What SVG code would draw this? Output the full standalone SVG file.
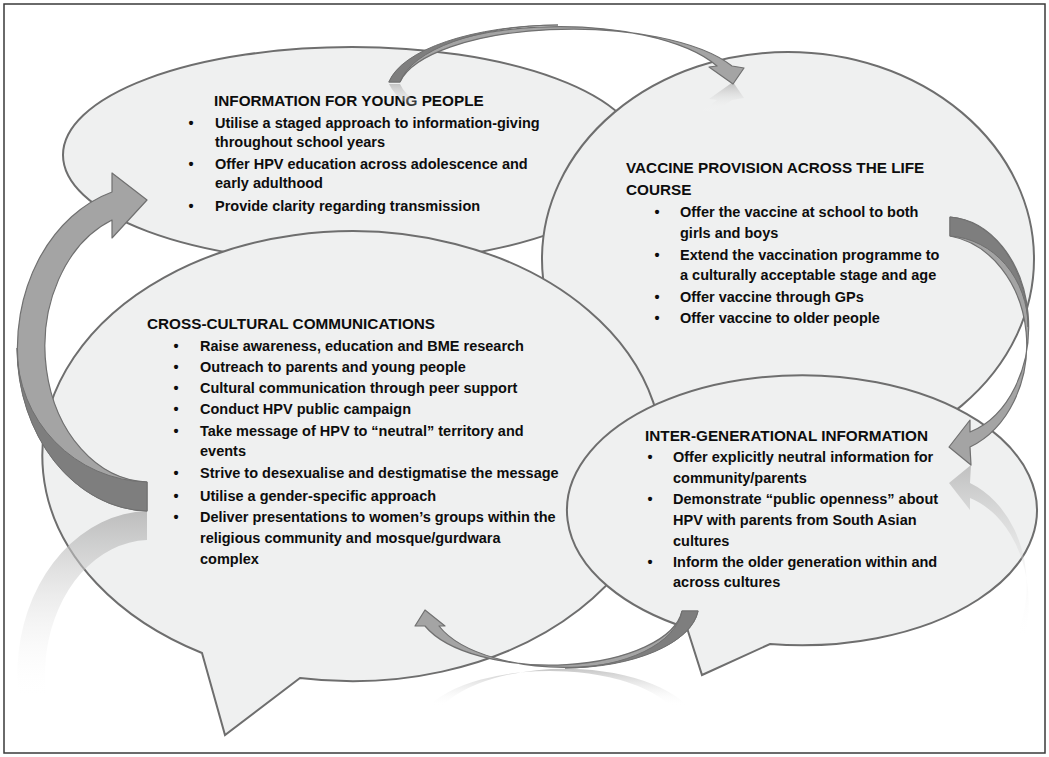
<svg xmlns="http://www.w3.org/2000/svg" xmlns:xlink="http://www.w3.org/1999/xlink" width="1049" height="757" viewBox="0 0 1049 757">
<style>
.bub{fill:#eff0f0;stroke:#6e6e6e;stroke-width:2}
.t{font-family:"Liberation Sans",Arial,sans-serif;font-weight:bold;font-size:14.5px;fill:#0d0d0d}
.h{font-size:15.3px}
.arr{fill:#a4a4a4;stroke:#707070;stroke-width:1.2;stroke-linejoin:round}
.dk{fill:#7e7e7e;stroke:#707070;stroke-width:1;stroke-linejoin:round}
</style>
<defs>
<path id="shA" d="M389,82 A173,67 0 0 1 717,66 L709,67 L733,84 L744,68 L732,66 A175,63 0 0 0 400,82 Z"/>
<path id="shB" d="M950,217 A83,110 0 0 1 970,432 L970,420 L949,447 L971,465 L970,447 A90,110 0 0 0 950,236 Z"/>
<path id="shC" d="M698,611 A134,63 0 0 1 439,626 L445,626 L425,610 L415,626 L425,626 A133,60 0 0 0 682,611 Z"/>
<path id="shD" d="M112,192 A133,163 0 0 0 147,511 L147,482 A105,135.6 0 0 1 112,220 L112,238 L147,200 L112,173 Z"/>
<linearGradient id="rA" gradientUnits="userSpaceOnUse" x1="0" y1="83" x2="0" y2="54"><stop offset="0" stop-color="#b0b0b0" stop-opacity="0.75"/><stop offset="1" stop-color="#ffffff" stop-opacity="0"/></linearGradient>
<linearGradient id="rB" gradientUnits="userSpaceOnUse" x1="0" y1="465" x2="0" y2="290"><stop offset="0" stop-color="#b0b0b0" stop-opacity="0.75"/><stop offset="1" stop-color="#ffffff" stop-opacity="0"/></linearGradient>
<linearGradient id="rC" gradientUnits="userSpaceOnUse" x1="0" y1="668" x2="0" y2="630"><stop offset="0" stop-color="#b0b0b0" stop-opacity="0.75"/><stop offset="1" stop-color="#ffffff" stop-opacity="0"/></linearGradient>
<linearGradient id="rD" gradientUnits="userSpaceOnUse" x1="0" y1="511" x2="0" y2="322"><stop offset="0" stop-color="#b0b0b0" stop-opacity="0.8"/><stop offset="1" stop-color="#ffffff" stop-opacity="0"/></linearGradient>
</defs>
<rect x="0" y="0" width="1049" height="757" fill="#ffffff"/>
<rect x="4" y="4" width="1041" height="749" fill="#ffffff" stroke="#3a3a3a" stroke-width="1.5"/>

<g id="node-young-people">
<ellipse class="bub" cx="352" cy="155" rx="289" ry="108"/>
<text class="t h" x="214" y="106">INFORMATION FOR YOUNG PEOPLE</text>
<text class="t" x="188.5" y="128">•</text><text class="t" x="215" y="128">Utilise a staged approach to information-giving</text>
<text class="t" x="215" y="147">throughout school years</text>
<text class="t" x="188.5" y="169">•</text><text class="t" x="215" y="169">Offer HPV education across adolescence and</text>
<text class="t" x="215" y="188">early adulthood</text>
<text class="t" x="188.5" y="211">•</text><text class="t" x="215" y="211">Provide clarity regarding transmission</text>
</g>

<g id="node-vaccine">
<ellipse class="bub" cx="788" cy="259" rx="246" ry="207"/>
<text class="t h" x="626" y="173">VACCINE PROVISION ACROSS THE LIFE</text>
<text class="t h" x="626" y="195">COURSE</text>
<text class="t" x="654.5" y="217">•</text><text class="t" x="680" y="217">Offer the vaccine at school to both</text>
<text class="t" x="680" y="238">girls and boys</text>
<text class="t" x="654.5" y="260">•</text><text class="t" x="680" y="260">Extend the vaccination programme to</text>
<text class="t" x="680" y="280">a culturally acceptable stage and age</text>
<text class="t" x="654.5" y="302">•</text><text class="t" x="680" y="302">Offer vaccine through GPs</text>
<text class="t" x="654.5" y="323">•</text><text class="t" x="680" y="323">Offer vaccine to older people</text>
</g>

<g id="node-cross-cultural">
<path class="bub" d="M202,653 A310,225 0 1 1 300,678 L225,735 Z"/>
<text class="t h" x="147" y="329">CROSS-CULTURAL COMMUNICATIONS</text>
<text class="t" x="173.5" y="351">•</text><text class="t" x="200" y="351">Raise awareness, education and BME research</text>
<text class="t" x="173.5" y="372">•</text><text class="t" x="200" y="372">Outreach to parents and young people</text>
<text class="t" x="173.5" y="393">•</text><text class="t" x="200" y="393">Cultural communication through peer support</text>
<text class="t" x="173.5" y="414">•</text><text class="t" x="200" y="414">Conduct HPV public campaign</text>
<text class="t" x="173.5" y="436">•</text><text class="t" x="200" y="436">Take message of HPV to “neutral” territory and</text>
<text class="t" x="200" y="456">events</text>
<text class="t" x="173.5" y="478">•</text><text class="t" x="200" y="478">Strive to desexualise and destigmatise the message</text>
<text class="t" x="173.5" y="501">•</text><text class="t" x="200" y="501">Utilise a gender-specific approach</text>
<text class="t" x="173.5" y="522">•</text><text class="t" x="200" y="522">Deliver presentations to women’s groups within the</text>
<text class="t" x="200" y="543">religious community and mosque/gurdwara</text>
<text class="t" x="200" y="564">complex</text>
</g>

<g id="node-inter-generational">
<path class="bub" d="M687,628 A235,135 0 1 1 770,644 L702,675 Z"/>
<text class="t h" x="645" y="441">INTER-GENERATIONAL INFORMATION</text>
<text class="t" x="647.5" y="462">•</text><text class="t" x="673" y="462">Offer explicitly neutral information for</text>
<text class="t" x="673" y="483">community/parents</text>
<text class="t" x="647.5" y="504">•</text><text class="t" x="673" y="504">Demonstrate “public openness” about</text>
<text class="t" x="673" y="525">HPV with parents from South Asian</text>
<text class="t" x="673" y="546">cultures</text>
<text class="t" x="647.5" y="567">•</text><text class="t" x="673" y="567">Inform the older generation within and</text>
<text class="t" x="673" y="587">across cultures</text>
</g>

<g id="connectors">
<g id="reflections">
<use xlink:href="#shA" href="#shA" fill="url(#rA)" transform="matrix(1 0 0 -1 0 166)"/>
<use xlink:href="#shB" href="#shB" fill="url(#rB)" transform="matrix(1 0 0 -1 0 930)"/>
<use xlink:href="#shC" href="#shC" fill="url(#rC)" transform="matrix(1 0 0 -1 0 1336)"/>
<use xlink:href="#shD" href="#shD" fill="url(#rD)" transform="matrix(1 0 0 -1 0 1022)"/>
</g>
<g id="arrow-young-to-vaccine">
<use xlink:href="#shA" href="#shA" class="arr"/>
<path class="dk" d="M389,82 A173,67 0 0 1 558,25 A162,67 0 0 0 400,82 Z"/>
</g>
<g id="arrow-vaccine-to-intergen">
<use xlink:href="#shB" href="#shB" class="arr"/>
<path class="dk" d="M950,217 A83,110 0 0 1 1028,327 A83,91 0 0 0 950,236 Z"/>
</g>
<g id="arrow-intergen-to-cross">
<use xlink:href="#shC" href="#shC" class="arr"/>
<path class="dk" d="M698,611 A134,63 0 0 1 565,668 A117.5,63 0 0 0 682,611 Z"/>
</g>
<g id="arrow-cross-to-young">
<use xlink:href="#shD" href="#shD" class="arr"/>
<path class="dk" d="M147,511 A133,163 0 0 1 17,348 A133,134 0 0 0 147,482 Z"/>
</g>
</g>
</svg>
